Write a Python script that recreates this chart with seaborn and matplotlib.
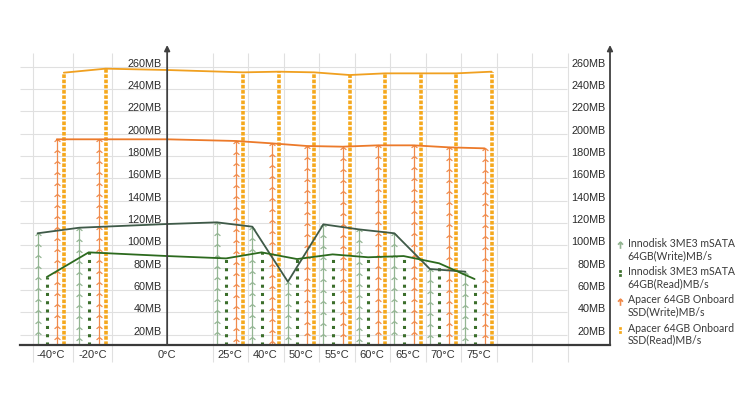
import numpy as np
import pandas as pd
import matplotlib
matplotlib.use("Agg")
import matplotlib.pyplot as plt
import seaborn as sns
from matplotlib.path import Path
from matplotlib.lines import Line2D

# ---------------- data ----------------
temps = ['-40°C', '-20°C', '0°C', '25°C', '40°C', '50°C', '55°C', '60°C', '65°C', '70°C', '75°C']
innodisk_write = [110.7, 115.7, 119.0, 120.5, 116.6, 67.3, 118.7, 114.2, 110.7, 78.7, 76.3]
innodisk_read = [71.5, 93.6, 90.3, 88.2, 93.6, 87.6, 91.8, 89.2, 90.3, 83.8, 69.7]
apacer_write = [194.9, 194.9, 194.9, 193.4, 191.3, 188.9, 188.3, 189.5, 189.5, 187.7, 186.8]
apacer_read = [254.6, 258.2, 257.0, 254.9, 255.5, 254.9, 252.5, 254.0, 254.0, 254.0, 255.5]
series_names = ['Innodisk 3ME3 mSATA\n64GB(Write)MB/s',
                'Innodisk 3ME3 mSATA\n64GB(Read)MB/s',
                'Apacer 64GB Onboard\nSSD(Write)MB/s',
                'Apacer 64GB Onboard\nSSD(Read)MB/s']
y_ticks = list(range(20, 261, 20))
y_tick_labels = [f'{v}MB' for v in y_ticks]
axis_temp = '0°C'

# ---------------- layout / style ----------------
cat_pos = [-5.05, -3.87, -1.77, 0, 1, 2, 3, 4, 5, 6, 7]
bar_offsets = [-0.37, -0.11, 0.17, 0.37]
grid_x = [-5.55, -4.42, -3.32] + list(np.arange(-0.48, 9.6, 1.0))
XLIM = (-5.915, 10.704)
YLIM = (10.6, 279.4)
bar_colors = ['#93b592', '#3b6e2b', '#f08a4b', '#f5a81c']
line_colors = ['#3f5a48', '#2c6a1e', '#ec7a2a', '#f0a020']
kinds = ['write', 'read', 'write', 'read']

sns.set_theme(style='white')
plt.rcParams['font.family'] = ['Liberation Sans', 'DejaVu Sans']

fig = plt.figure(figsize=(7.41, 3.95), dpi=100)
ax = fig.add_axes([20 / 741, 50 / 395, 590 / 741, 300 / 395])
ax.set_xlim(*XLIM)
ax.set_ylim(*YLIM)

# grid
ax.hlines(y_ticks, XLIM[0], 9.49, color='#e0e0e0', lw=0.8, zorder=0)
ax.vlines(grid_x, -4.7, 272, color='#e0e0e0', lw=0.8, zorder=0, clip_on=False)

chevron = Path([(-1, -0.8), (0, 0), (1, -0.8)], [Path.MOVETO, Path.LINETO, Path.LINETO])
step = 9.86

all_vals = [innodisk_write, innodisk_read, apacer_write, apacer_read]

# bars
for vals, off, col, kind in zip(all_vals, bar_offsets, bar_colors, kinds):
    for i, t in enumerate(temps):
        if t == axis_temp:
            continue
        x = cat_pos[i] + off
        top = vals[i]
        if kind == 'write':
            ax.plot([x, x], [YLIM[0], top], color=col, lw=0.9, zorder=2)
            ys = top - np.arange(0, top - YLIM[0] - 3, step)
            ax.plot(np.full(len(ys), x), ys, linestyle='none', marker=chevron,
                    ms=4.2, mec=col, mfc='none', mew=0.9, zorder=2)
        else:
            if col == bar_colors[3]:
                ax.plot([x, x], [YLIM[0], top], color=col, lw=2.6,
                        linestyle=(0, (1, 0.45)), dash_capstyle='butt', zorder=2)
            else:
                ax.plot([x, x], [YLIM[0], top], color=col, lw=2.2,
                        linestyle=(0, (1, 1.7)), dash_capstyle='butt', zorder=2)

# connecting lines via seaborn
rows = []
for name, vals, off in zip(series_names, all_vals, bar_offsets):
    for i, t in enumerate(temps):
        x = cat_pos[i] + (0 if t == axis_temp else off)
        rows.append({'x': x, 'value': vals[i], 'series': name})
df = pd.DataFrame(rows)
sns.lineplot(data=df, x='x', y='value', hue='series', hue_order=series_names,
             palette=dict(zip(series_names, line_colors)), sort=False,
             estimator=None, legend=False, lw=1.3, ax=ax, zorder=3)
ax.set_xlabel('')
ax.set_ylabel('')

# axes
x0 = cat_pos[temps.index(axis_temp)]
for s in ['top', 'right', 'left']:
    ax.spines[s].set_visible(False)
ax.spines['left'].set_position(('data', x0))
ax.spines['bottom'].set_color('#3a3a3a')
ax.spines['bottom'].set_linewidth(1.6)
ax.spines['bottom'].set_zorder(4)
for xa in [x0, XLIM[1]]:
    ax.annotate('', xy=(xa, YLIM[1]), xytext=(xa, YLIM[0]),
                arrowprops=dict(arrowstyle='-|>', color='#404040', lw=1.3,
                                mutation_scale=8, shrinkA=0, shrinkB=0),
                annotation_clip=False, zorder=5)

ax.set_xticks(cat_pos, temps)
ax.tick_params(axis='x', length=0, pad=3.5, labelsize=8, labelcolor='#333333')
ax.set_yticks(y_ticks, y_tick_labels)
ax.tick_params(axis='y', length=0, pad=4, labelsize=7.8, labelcolor='#2a2a2a')
for tk in ax.yaxis.get_major_ticks():
    tk.label1.set_va('baseline')

ax2 = ax.twinx()
ax2.set_ylim(*YLIM)
ax2.set_yticks(y_ticks, y_tick_labels)
ax2.yaxis.tick_left()
ax2.spines['left'].set_position(('axes', 1.0))
for s in ax2.spines.values():
    s.set_visible(False)
ax2.tick_params(axis='y', length=0, pad=3, labelsize=7.8, labelcolor='#2a2a2a')
for tk in ax2.yaxis.get_major_ticks():
    tk.label1.set_va('baseline')
ax2.grid(False)
ax.grid(False)

# legend
up_arrow = Path([(0, 0.2), (0, 1.0), (-0.3, 0.7), (0, 1.0), (0.3, 0.7)],
                [Path.MOVETO, Path.LINETO, Path.MOVETO, Path.LINETO, Path.LINETO])
sq = [(-0.13, 0.25), (0.13, 0.25), (0.13, 0.5), (-0.13, 0.5), (-0.13, 0.25),
      (-0.13, 0.68), (0.13, 0.68), (0.13, 0.95), (-0.13, 0.95), (-0.13, 0.68)]
sq_codes = [Path.MOVETO, Path.LINETO, Path.LINETO, Path.LINETO, Path.CLOSEPOLY] * 2
two_squares = Path(sq, sq_codes)
handles = []
for col, kind in zip(bar_colors, kinds):
    if kind == 'write':
        handles.append(Line2D([], [], linestyle='none', marker=up_arrow, ms=12,
                              mec=col, mfc='none', mew=1.2))
    else:
        handles.append(Line2D([], [], linestyle='none', marker=two_squares, ms=12,
                              mec=col, mfc=col, mew=0.5))
leg = fig.legend(handles, series_names, loc='upper left',
                 bbox_to_anchor=(616 / 741, 1 - 238 / 395), frameon=False,
                 handlelength=0.8, handletextpad=0.3, labelspacing=0.5,
                 borderpad=0, borderaxespad=0,
                 prop={'family': ['Lato', 'DejaVu Sans'], 'size': 7.6})
for t in leg.get_texts():
    t.set_color('#3a3a3a')
    t.set_linespacing(1.1)

fig.savefig('out.png', dpi=100, facecolor='white')
